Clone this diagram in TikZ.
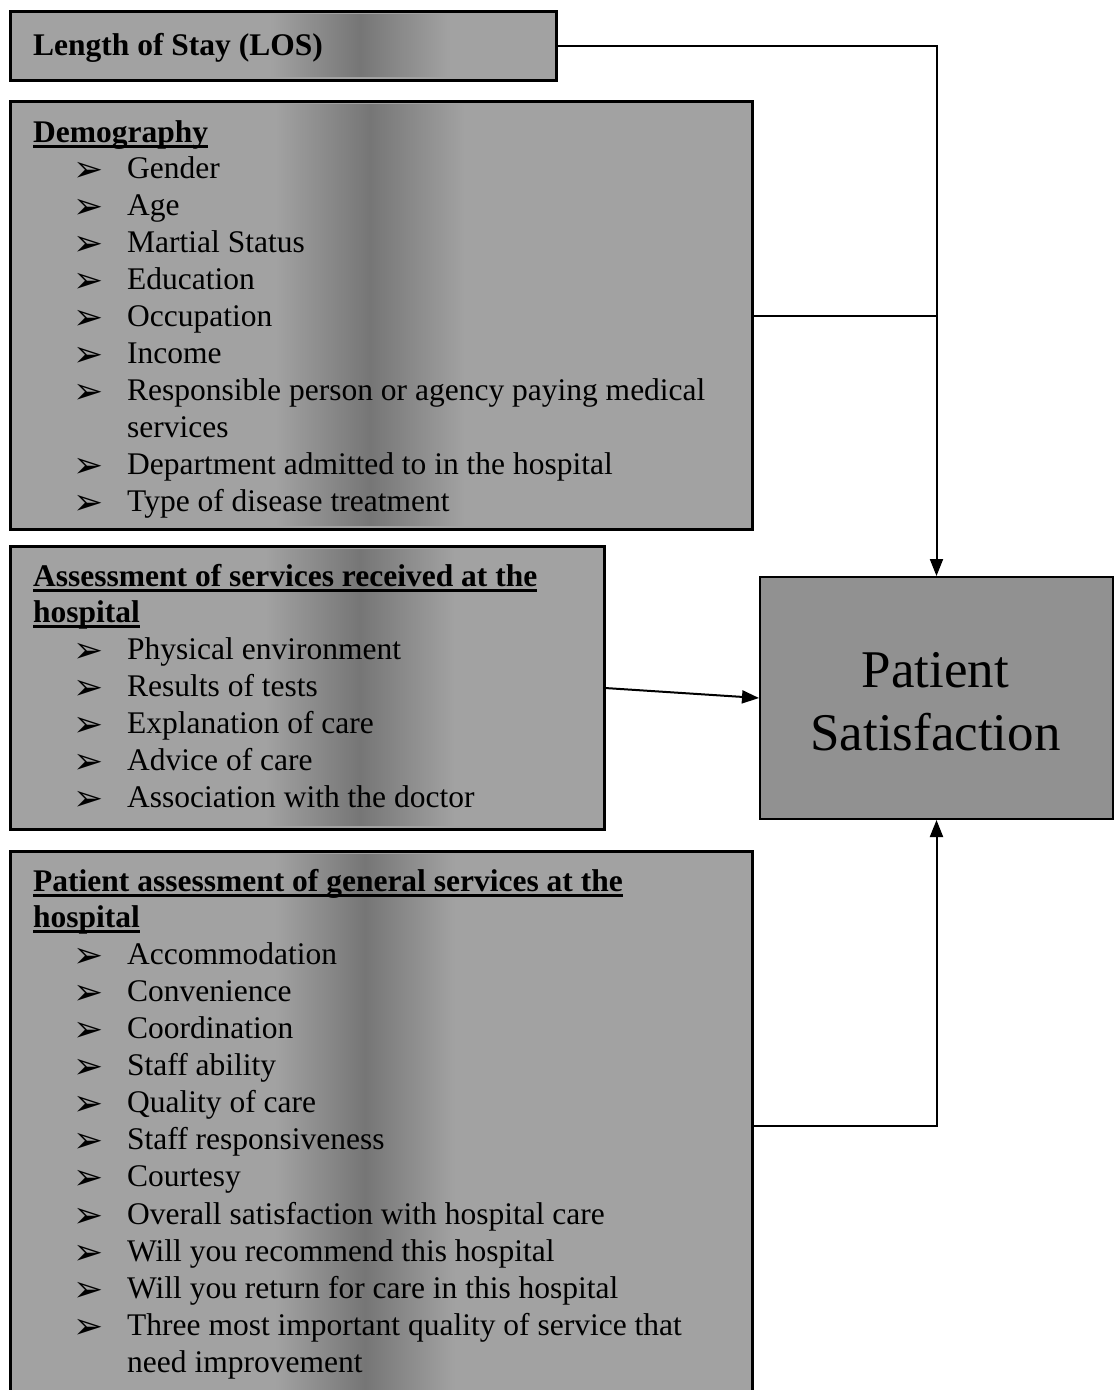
\documentclass[tikz,border=0pt]{standalone}
\usepackage{fontspec}
\setmainfont{Liberation Serif}
\newfontfamily\bulletfont{DejaVu Sans}
\usetikzlibrary{arrows.meta}
\definecolor{boxgray}{RGB}{162,162,162}
\definecolor{bandgray}{RGB}{118,118,118}
\definecolor{psgray}{RGB}{145,145,145}
\newcommand\bul{\llap{\raisebox{-3pt}{\bulletfont\fontsize{36}{36}\selectfont ➢}\hspace{24pt}}}
\newcommand\ulx[1]{\setbox0\hbox{#1}\rlap{\rule[-6pt]{\wd0}{2.6pt}}\box0}
\tikzset{
  box/.style={draw=black, line width=2pt, fill=boxgray, inner sep=0pt, anchor=north west},
  item/.style={anchor=base west, inner sep=0pt, font=\fontsize{31.5}{37}\selectfont},
  head/.style={anchor=base west, inner sep=0pt, font=\fontsize{31.5}{37}\selectfont\bfseries},
  conn/.style={line width=2pt, draw=black},
  tip/.style={-{Triangle[length=17pt,width=13pt]}},
  band/.style={left color=boxgray, right color=boxgray, middle color=bandgray}
}
\begin{document}
\begin{tikzpicture}[x=1pt,y=-1pt]
\useasboundingbox[fill=white] (0,0) rectangle (1114,1390);
% boxes
\node[box, minimum width=545pt, minimum height=68pt] (los) at (10,11) {};
\node[box, minimum width=741pt, minimum height=427pt] (dem) at (10,101) {};
\node[box, minimum width=593pt, minimum height=282pt] (ass) at (10,546) {};
\node[box, minimum width=741pt, minimum height=548pt] (gen) at (10,851) {};
\node[box, fill=psgray, minimum width=353pt, minimum height=242pt] (ps) at (759,576) {};
% darker bands
\shade[band] (270,14) rectangle (450,76);
\shade[band] (275,104) rectangle (465,525);
\shade[band] (265,549) rectangle (455,825);
\shade[band] (275,854) rectangle (455,1390);
\draw[line width=2pt] (los.north west) rectangle (los.south east);
\draw[line width=2pt] (dem.north west) rectangle (dem.south east);
\draw[line width=2pt] (ass.north west) rectangle (ass.south east);
\draw[line width=2pt] (gen.north west) rectangle (gen.south east);
% LOS
\node[head] (losh) at (33,55) {Length of Stay (LOS)};
% Demography
\node[head] (demh) at (33,142) {\ulx{Demography}};
\node[item] (d1) at (127,178) {\bul Gender};
\node[item] (d2) at (127,215) {\bul Age};
\node[item] (d3) at (127,252) {\bul Martial Status};
\node[item] (d4) at (127,289) {\bul Education};
\node[item] (d5) at (127,326) {\bul Occupation};
\node[item] (d6) at (127,363) {\bul Income};
\node[item] (d7) at (127,400) {\bul Responsible person or agency paying medical};
\node[item] (d7b) at (127,437) {services};
\node[item] (d8) at (127,474) {\bul Department admitted to in the hospital};
\node[item] (d9) at (127,511) {\bul Type of disease treatment};
% Assessment
\node[head] (assh1) at (33,586) {\ulx{Assessment of services received at the}};
\node[head] (assh2) at (33,622) {\ulx{hospital}};
\node[item] (a1) at (127,659) {\bul Physical environment};
\node[item] (a2) at (127,696) {\bul Results of tests};
\node[item] (a3) at (127,733) {\bul Explanation of care};
\node[item] (a4) at (127,770) {\bul Advice of care};
\node[item] (a5) at (127,807) {\bul Association with the doctor};
% General
\node[head] (genh1) at (33,891) {\ulx{Patient assessment of general services at the}};
\node[head] (genh2) at (33,927) {\ulx{hospital}};
\node[item] (g1) at (127,964) {\bul Accommodation};
\node[item] (g2) at (127,1001) {\bul Convenience};
\node[item] (g3) at (127,1038) {\bul Coordination};
\node[item] (g4) at (127,1075) {\bul Staff ability};
\node[item] (g5) at (127,1112) {\bul Quality of care};
\node[item] (g6) at (127,1149) {\bul Staff responsiveness};
\node[item] (g7) at (127,1186) {\bul Courtesy};
\node[item] (g8) at (127,1224) {\bul Overall satisfaction with hospital care};
\node[item] (g9) at (127,1261) {\bul Will you recommend this hospital};
\node[item] (g10) at (127,1298) {\bul Will you return for care in this hospital};
\node[item] (g11) at (127,1335) {\bul Three most important quality of service that};
\node[item] (g11b) at (127,1372) {need improvement};
% Patient Satisfaction
\node[anchor=base, inner sep=0pt, font=\fontsize{53}{63}\selectfont] (ps1) at (935.5,687) {Patient};
\node[anchor=base, inner sep=0pt, font=\fontsize{53}{63}\selectfont] (ps2) at (935.5,750) {Satisfaction};
% connectors
\draw[conn, tip] (los.east) -| (ps.north);
\draw[conn] (dem.east) -- (dem.east -| ps.north);
\draw[conn, tip] (ass.east) -- (ps.west);
\draw[conn, tip] (gen.east) -| (ps.south);
\end{tikzpicture}
\end{document}
